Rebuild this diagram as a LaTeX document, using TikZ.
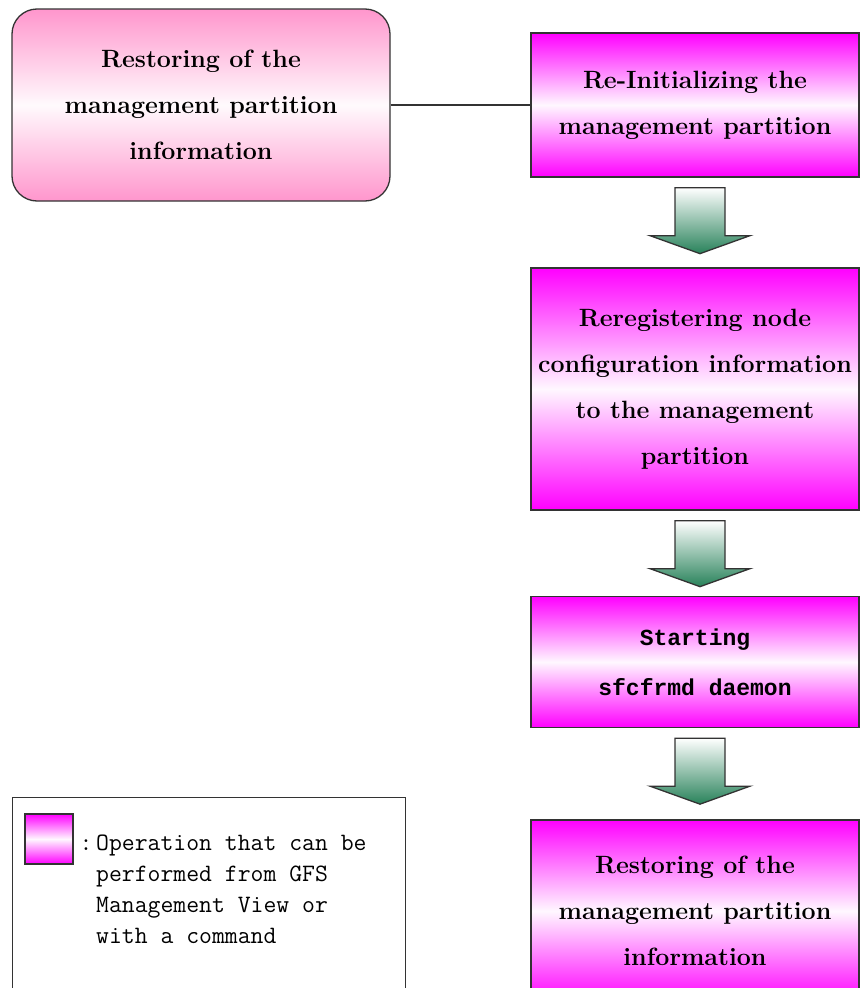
\documentclass[tikz,border=0pt]{standalone}
\usepackage{fontspec}
\newfontfamily\gothicfont{Liberation Mono}
\usetikzlibrary{positioning, calc}

\definecolor{flowpink}{RGB}{255,150,205}
\definecolor{flowgreen}{RGB}{40,130,90}

\tikzset{
  opbox/.style={draw=black!80, line width=1.3pt, top color=magenta, bottom color=magenta,
    middle color=magenta!3, align=center, inner sep=0pt, minimum width=328pt,
    font=\bfseries\fontsize{25}{46}\selectfont},
  infobox/.style={opbox, rounded corners=25pt, top color=flowpink, bottom color=flowpink,
    middle color=flowpink!5},
  flowarrow/.style={draw=black!80, line width=1.3pt, top color=white, bottom color=flowgreen},
  link/.style={draw=black!80, line width=1.3pt},
  legendtext/.style={align=left, inner sep=0pt, font=\ttfamily\fontsize{25}{31}\selectfont}
}

\begin{document}
\begin{tikzpicture}[x=1pt, y=-1pt]
  \useasboundingbox (0,0) rectangle (860,988);
  % Boxes
  \node[infobox, minimum width=378pt, minimum height=192pt] (restoreinfo) at (201,105)
    {Restoring of the\\management partition\\information};
  \node[opbox, minimum height=144pt] (reinit) at (695,105)
    {Re-Initializing the\\management partition};
  \node[opbox, minimum height=242pt] (rereg) at (695,389)
    {Reregistering node\\configuration information\\to the management\\partition};
  \node[opbox, minimum height=131pt, font=\gothicfont\bfseries\fontsize{23}{50}\selectfont] (start) at (695,662)
    {Starting\\sfcfrmd daemon};
  \node[opbox, minimum height=182pt] (restore) at (695,911)
    {Restoring of the\\management partition\\information};
  % Link
  \draw[link] (restoreinfo.east) -- (reinit.west);
  % Flow arrows
  \foreach \a in {reinit, rereg, start} {
    \coordinate (top) at ($(\a.south)+(5,10)$);
    \draw[flowarrow] (top) ++(-25,0) -- ++(50,0) -- ++(0,48) -- ++(25,0)
      -- ++(-50,18) -- ++(-50,-18) -- ++(25,0) -- cycle;
  }
  % Legend
  \node[draw=black!80, line width=1.3pt, anchor=north west, minimum width=393pt,
    minimum height=203pt] (legend) at (12,797) {};
  \node[opbox, minimum width=48pt, minimum height=50pt] (swatch) at (49,839) {};
  \node[legendtext] (colon) at (86,845) {:};
  \node[legendtext, anchor=north west] (legtext) at (96,835)
    {Operation that can be\\performed from GFS\\Management View or\\with a command};
\end{tikzpicture}
\end{document}
